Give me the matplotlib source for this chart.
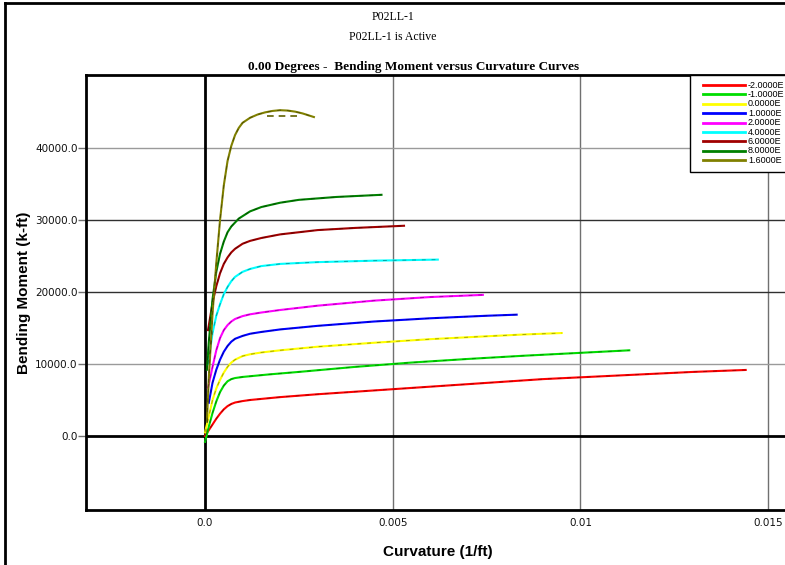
import numpy as np
import matplotlib.pyplot as plt
from matplotlib.lines import Line2D
from matplotlib.patches import Rectangle

# axial load cases (legend, as far as visible) and curve data
loads = ["-2.0000E", "-1.0000E", "0.0000E", "1.0000E", "2.0000E",
         "4.0000E", "6.0000E", "8.0000E", "1.6000E"]
colors = ["#ff0000", "#00dd00", "#ffff00", "#0000ff", "#ff00ff",
          "#00ffff", "#a00000", "#008000", "#808000"]

k_m2 = [0, 0.0001, 0.0002, 0.0003, 0.0004, 0.0005, 0.0006, 0.0007, 0.0008, 0.001, 0.0012, 0.0016,
        0.002, 0.003, 0.005, 0.007, 0.009, 0.011, 0.013, 0.0144]
m_m2 = [0, 800, 1600, 2400, 3100, 3700, 4150, 4450, 4650, 4850, 5000, 5200,
        5400, 5800, 6500, 7200, 7900, 8400, 8900, 9170]

k_m1 = [0, 0.00005, 0.0001, 0.0002, 0.0003, 0.0004, 0.0005, 0.0006, 0.0007, 0.0008, 0.001, 0.0013,
        0.0017, 0.0025, 0.004, 0.0055, 0.007, 0.0085, 0.01, 0.0113]
m_m1 = [-800, 200, 1300, 3200, 4800, 6100, 7000, 7600, 7900, 8050, 8200, 8350,
        8550, 8900, 9600, 10200, 10700, 11150, 11550, 11900]

k_0 = [0, 0.0001, 0.0002, 0.0003, 0.0004, 0.0005, 0.0006, 0.0007, 0.0008, 0.001, 0.0012, 0.0015,
       0.002, 0.003, 0.0045, 0.006, 0.0075, 0.0085, 0.0095]
m_0 = [500, 2700, 5000, 6600, 7800, 8800, 9600, 10200, 10600, 11100, 11350, 11600,
       11900, 12400, 12950, 13450, 13850, 14100, 14300]

k_1 = [0.0001, 0.0002, 0.0003, 0.0004, 0.0005, 0.0006, 0.0007, 0.0008, 0.001, 0.0012, 0.0015,
       0.002, 0.003, 0.0045, 0.006, 0.0075, 0.0083]
m_1 = [4600, 7400, 9200, 10600, 11700, 12500, 13100, 13500, 13900, 14200, 14450,
       14800, 15300, 15900, 16350, 16700, 16850]

k_2 = [0.00008, 0.0002, 0.0003, 0.0004, 0.0005, 0.0006, 0.0007, 0.0008, 0.001, 0.0012, 0.0015,
       0.002, 0.003, 0.0045, 0.006, 0.0074]
m_2 = [6700, 9600, 11900, 13600, 14700, 15400, 15900, 16250, 16650, 16900, 17150,
       17500, 18100, 18800, 19300, 19600]

k_4 = [0.00008, 0.0002, 0.0003, 0.0004, 0.0005, 0.0006, 0.0007, 0.0008, 0.001, 0.0012, 0.0015,
       0.002, 0.003, 0.0045, 0.0062]
m_4 = [10000, 14300, 16700, 18300, 19700, 20700, 21500, 22100, 22800, 23200, 23600,
       23900, 24150, 24350, 24500]

k_6 = [0.00008, 0.0002, 0.0003, 0.0004, 0.0005, 0.0006, 0.0007, 0.0008, 0.001, 0.0012, 0.0015,
       0.002, 0.003, 0.004, 0.0053]
m_6 = [14700, 18500, 20800, 22600, 23900, 24800, 25500, 26000, 26700, 27100, 27500,
       28000, 28600, 28900, 29200]

k_8 = [0.00005, 0.0001, 0.0002, 0.0003, 0.0004, 0.0005, 0.0006, 0.0007, 0.0009, 0.0012, 0.0015,
       0.002, 0.0025, 0.0035, 0.0047]
m_8 = [9200, 13000, 19000, 22800, 25300, 27000, 28300, 29100, 30200, 31200, 31800,
       32400, 32800, 33200, 33500]

k_16 = [0.00005, 0.0001, 0.0002, 0.0003, 0.0004, 0.0005, 0.0006, 0.0007, 0.0008, 0.0009, 0.001,
        0.0012, 0.0014, 0.0016, 0.0018, 0.002, 0.0022, 0.0024, 0.0026, 0.0029]
m_16 = [2000, 8000, 17000, 24000, 30000, 34800, 38200, 40300, 41800, 42800, 43500,
        44200, 44650, 44950, 45150, 45250, 45200, 45050, 44800, 44300]

# dashed idealized segment on the top curve
k_16_dash = [0.00165, 0.00245]
m_16_dash = [44400, 44400]

curves = [(k_m2, m_m2), (k_m1, m_m1), (k_0, m_0), (k_1, m_1), (k_2, m_2),
          (k_4, m_4), (k_6, m_6), (k_8, m_8), (k_16, m_16)]

serif = "Liberation Serif"
sans = "Liberation Sans"
tickfont = "DejaVu Sans"

fig = plt.figure(figsize=(7.85, 5.65), dpi=100)
W, H = 785, 565
ax = fig.add_axes([86 / W, 1 - 510 / H, (790 - 86) / W, (510 - 75) / H])

for (k, m), c in zip(curves, colors):
    ax.plot(k, m, color=c, lw=1.5, zorder=3)
    ax.plot(k, m, color="black", lw=0.7, ls=(0, (4, 6)), alpha=0.35, zorder=4)
ax.plot(k_16_dash, m_16_dash, color="#606000", lw=1.2, ls=(0, (4, 3)), zorder=4)

ax.set_xlim(-0.00317, 0.01558)
ax.set_ylim(-10280, 50140)

# grid and zero lines
for xv in [0.005, 0.01, 0.015]:
    ax.axvline(xv, color="#707070", lw=1, zorder=1)
for yv, gc in [(10000, "#9a9a9a"), (20000, "#303030"), (30000, "#303030"), (40000, "#9a9a9a")]:
    ax.axhline(yv, color=gc, lw=1, zorder=1)
ax.axvline(0, color="black", lw=2, zorder=2)
ax.axhline(0, color="black", lw=2, zorder=2)

ax.set_xticks([0, 0.005, 0.01, 0.015])
ax.set_xticklabels(["0.0", "0.005", "0.01", "0.015"])
ax.set_yticks([0, 10000, 20000, 30000, 40000])
ax.set_yticklabels(["0.0", "10000.0", "20000.0", "30000.0", "40000.0"])
ax.tick_params(axis="x", length=0, pad=6)
ax.tick_params(axis="y", length=6, width=1, color="#707070", pad=0)
for lab in ax.get_xticklabels() + ax.get_yticklabels():
    lab.set_fontfamily(tickfont)
    lab.set_fontsize(7.5)
    lab.set_color("#111111")
for s in ax.spines.values():
    s.set_linewidth(2)
    s.set_color("black")

ax.set_ylabel("Bending Moment (k-ft)", fontfamily=sans, fontweight="bold", fontsize=11, labelpad=3)
ax.set_xlabel("Curvature (1/ft)", fontfamily=sans, fontweight="bold", fontsize=11, labelpad=12)

fig.text(393 / W, 1 - 17 / H, "P02LL-1", ha="center", va="center", fontfamily=serif, fontsize=8.5)
fig.text(393 / W, 1 - 37 / H, "P02LL-1 is Active", ha="center", va="center", fontfamily=serif, fontsize=8.5)
fig.text(414 / W, 1 - 67 / H, "0.00 Degrees -  Bending Moment versus Curvature Curves", ha="center",
         va="center", fontfamily=serif, fontweight="bold", fontsize=9.5)

# legend box drawn in figure pixels (it runs off the right edge in the original)
tr = fig.transFigure
fig.add_artist(Rectangle((690 / W, 1 - 172 / H), 110 / W, 97 / H, transform=tr,
                         facecolor="white", edgecolor="black", lw=1, zorder=10))
for i, (lab, c) in enumerate(zip(loads, colors)):
    yy = 1 - (85 + 9.4 * i) / H
    fig.add_artist(Line2D([703 / W, 745 / W], [yy, yy], color=c, lw=2, transform=tr, zorder=11))
    fig.text(748 / W, yy, lab, ha="left", va="center", fontfamily=sans, fontsize=6.5, zorder=12)

# outer frame of the window (left and top edges visible)
fig.add_artist(Line2D([5 / W, 5 / W], [0, 1 - 3 / H], color="black", lw=2, transform=tr))
fig.add_artist(Line2D([5 / W, 1], [1 - 3 / H, 1 - 3 / H], color="black", lw=2, transform=tr))

fig.savefig("out.png", dpi=100)
